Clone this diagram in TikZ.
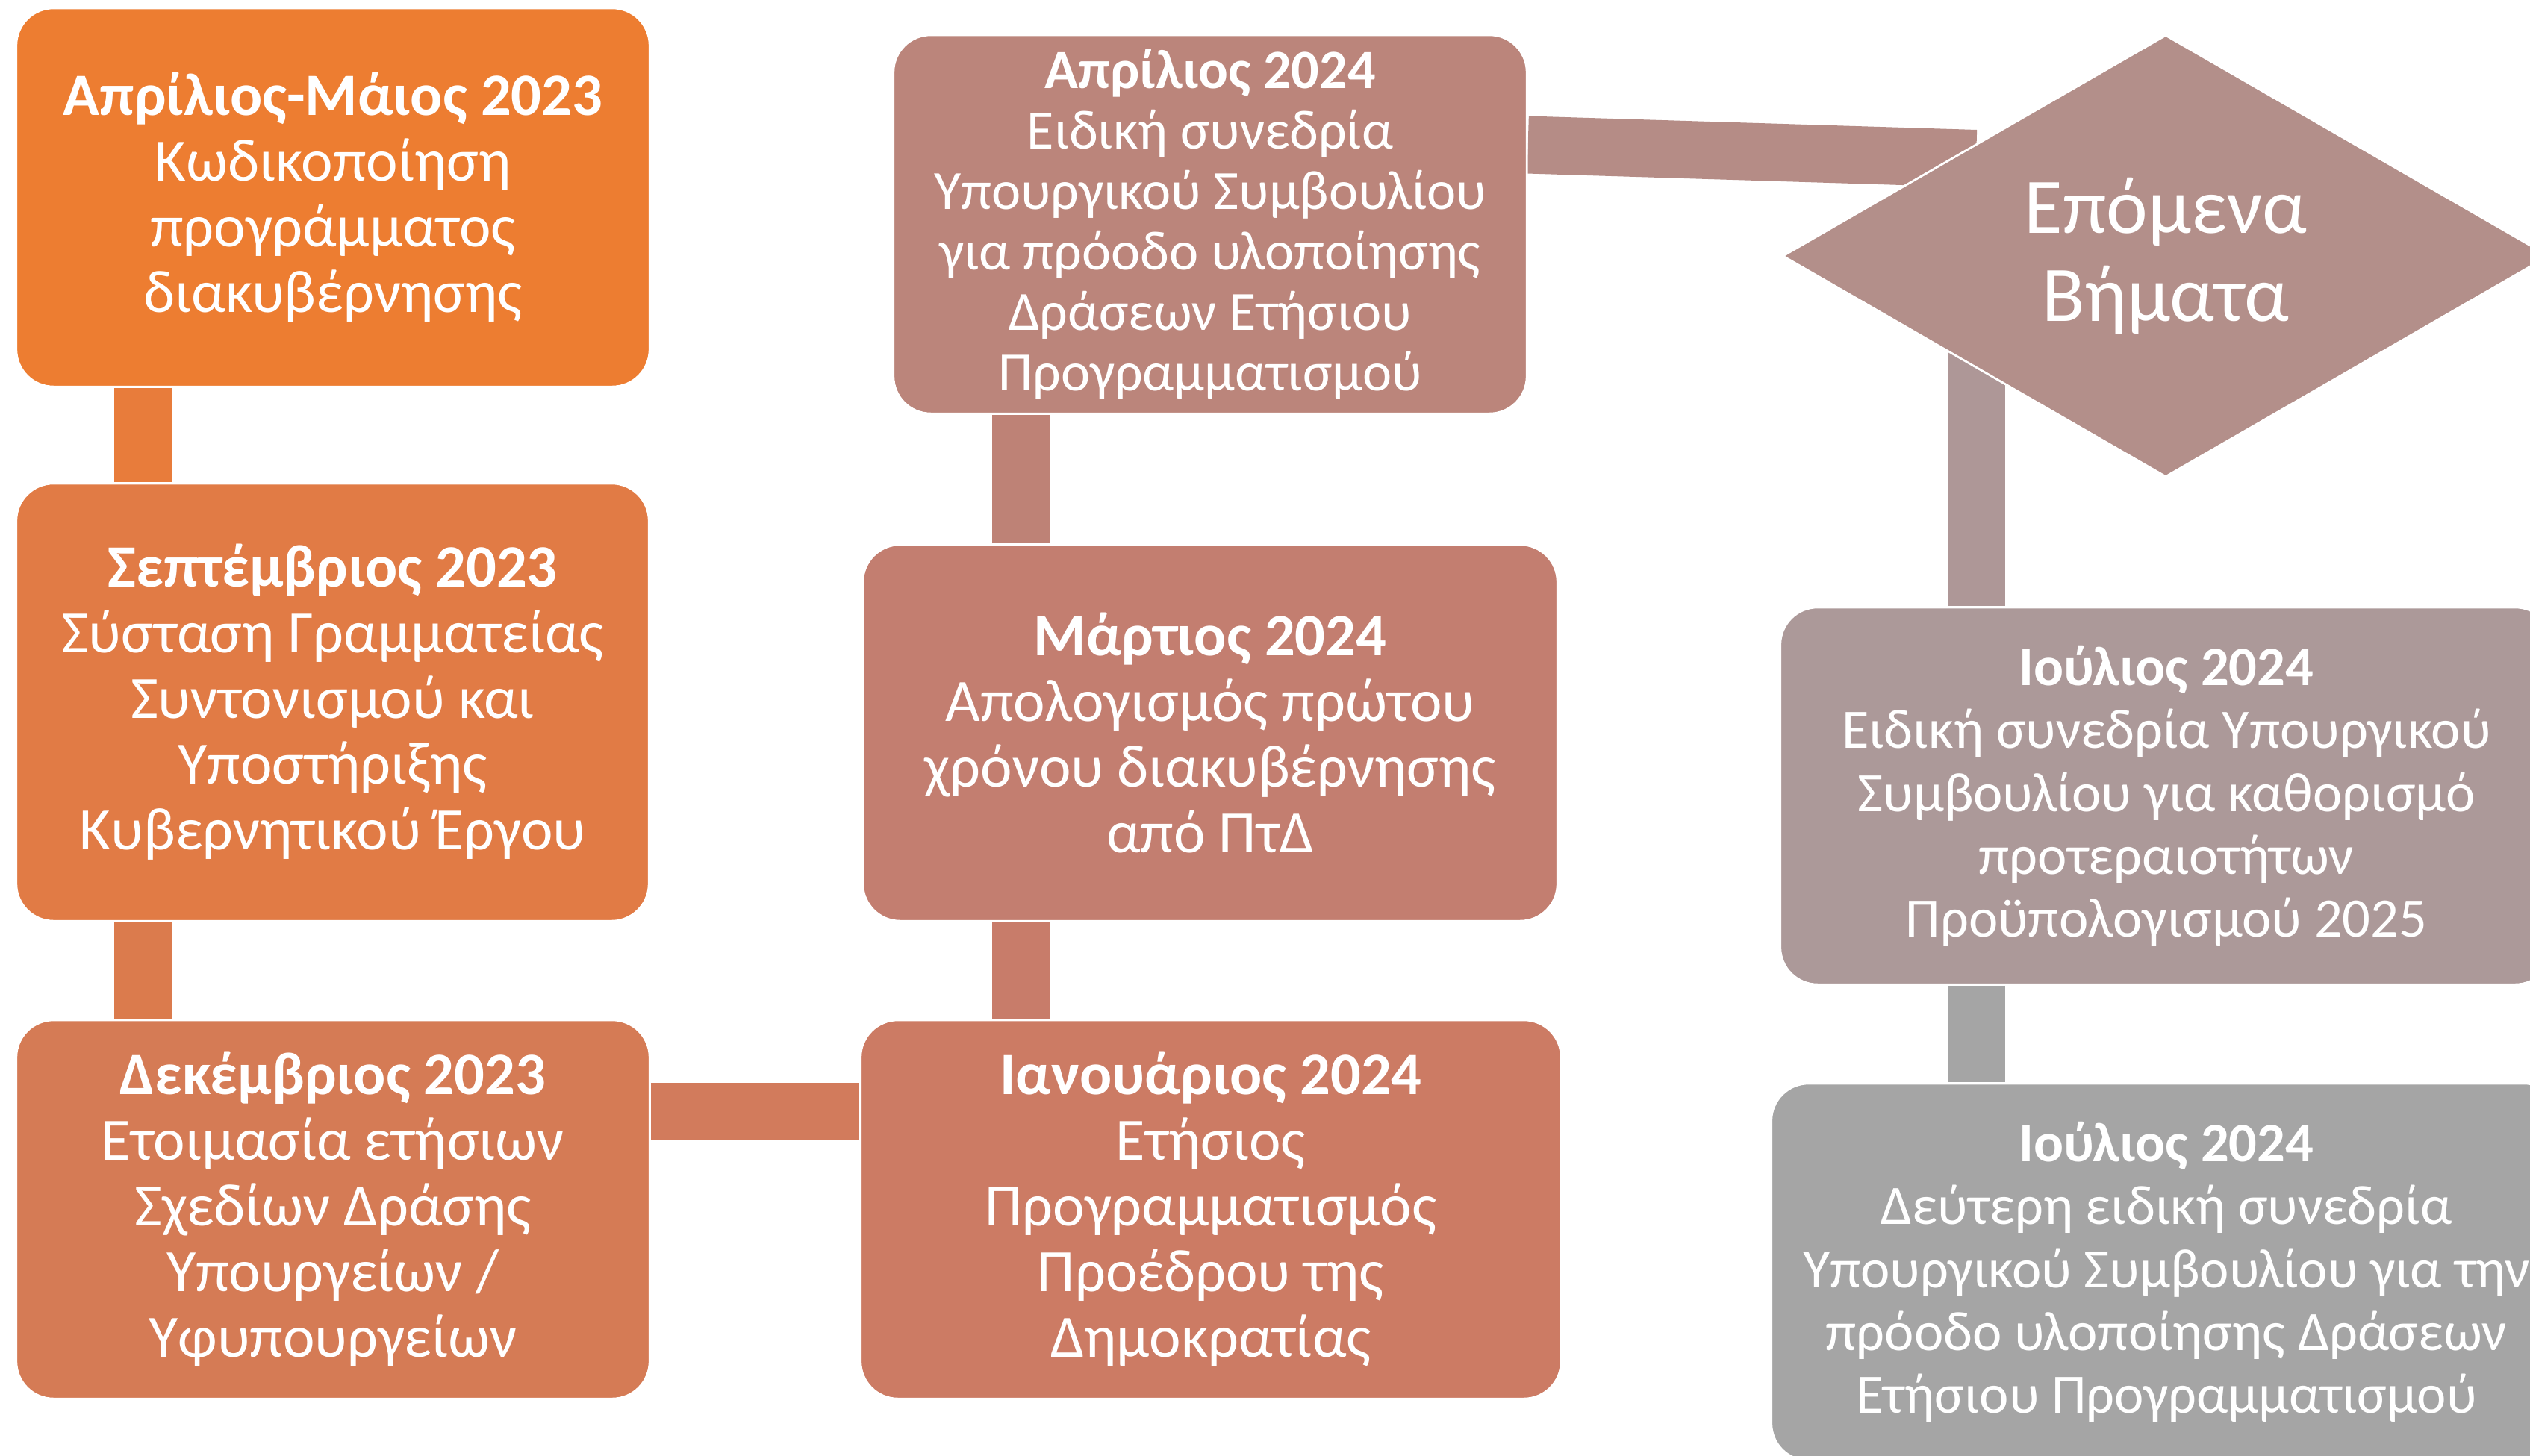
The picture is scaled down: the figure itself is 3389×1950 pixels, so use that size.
\documentclass[tikz,border=0pt]{standalone}
\usepackage{fontspec}
\setmainfont{Carlito}
\usetikzlibrary{shapes.geometric,backgrounds}
\definecolor{cA}{HTML}{ED7D31}
\definecolor{cB}{HTML}{E17B45}
\definecolor{cC}{HTML}{D57B55}
\definecolor{cD}{HTML}{CC7B64}
\definecolor{cE}{HTML}{C37E70}
\definecolor{cF}{HTML}{BB857B}
\definecolor{cG}{HTML}{B38F8A}
\definecolor{cH}{HTML}{AC9999}
\definecolor{cI}{HTML}{A5A5A5}
\definecolor{k1}{HTML}{E87C3B}
\definecolor{k2}{HTML}{DB7B4D}
\definecolor{k3}{HTML}{D27B5C}
\definecolor{k4}{HTML}{C87C6A}
\definecolor{k5}{HTML}{BE8276}
\definecolor{k6}{HTML}{B58C86}
\definecolor{k7}{HTML}{AE9797}
\definecolor{k8}{HTML}{A5A5A5}
\begin{document}
\begin{tikzpicture}[x=0.01cm,y=-0.01cm,
  box/.style={rounded corners=0.5cm, draw=white, line width=0.8pt, inner sep=0pt,
    align=center, text=white, font=\fontsize{22.9}{25}\selectfont},
  conn/.style={line width=0.77cm}]
\useasboundingbox (0,0) rectangle (3389,1950);
% boxes
\node[box, fill=cA, minimum width=8.48cm, minimum height=5.07cm] (b1) at (446,264.5)
  {\textbf{Απρίλιος-Μάιος 2023}\\Κωδικοποίηση\\προγράμματος\\διακυβέρνησης};
\node[box, fill=cB, minimum width=8.47cm, minimum height=5.86cm] (b2) at (445.5,941)
  {\textbf{Σεπτέμβριος 2023}\\Σύσταση Γραμματείας\\Συντονισμού και\\Υποστήριξης\\Κυβερνητικού Έργου};
\node[box, fill=cC, minimum width=8.48cm, minimum height=5.07cm] (b3) at (446,1620.5)
  {\textbf{Δεκέμβριος 2023}\\Ετοιμασία ετήσιων\\Σχεδίων Δράσης\\Υπουργείων /\\Υφυπουργείων};
\node[box, fill=cD, minimum width=9.38cm, minimum height=5.07cm] (jan) at (1622,1620.5)
  {\textbf{Ιανουάριος 2024}\\Ετήσιος\\Προγραμματισμός\\Προέδρου της\\Δημοκρατίας};
\node[box, fill=cE, minimum width=9.30cm, minimum height=5.04cm] (mar) at (1621,982)
  {\textbf{Μάρτιος 2024}\\Απολογισμός πρώτου\\χρόνου διακυβέρνησης\\από ΠτΔ};
\node[box, fill=cF, minimum width=8.48cm, minimum height=5.07cm,
  font=\fontsize{21.1}{23}\selectfont] (apr) at (1621,300.5)
  {\textbf{Απρίλιος 2024}\\Ειδική συνεδρία\\Υπουργικού Συμβουλίου\\για πρόοδο υλοποίησης\\Δράσεων Ετήσιου\\Προγραμματισμού};
\node[diamond, fill=cG, draw=white, line width=0.8pt, inner sep=0pt, minimum width=10.26cm,
  minimum height=5.92cm, align=center, text=white, font=\fontsize{30}{33.5}\selectfont] (dia) at (2901,343)
  {Επόμενα\\Βήματα};
\node[box, fill=cH, minimum width=10.34cm, minimum height=5.05cm,
  font=\fontsize{21.2}{24}\selectfont] (j1) at (2902,1066.5)
  {\textbf{Ιούλιος 2024}\\Ειδική συνεδρία Υπουργικού\\Συμβουλίου για καθορισμό\\προτεραιοτήτων\\Προϋπολογισμού 2025};
\node[box, fill=cI, minimum width=10.58cm, minimum height=5.05cm,
  font=\fontsize{21.2}{24}\selectfont] (j2) at (2902,1704.5)
  {\textbf{Ιούλιος 2024}\\Δεύτερη ειδική συνεδρία\\Υπουργικού Συμβουλίου για την\\πρόοδο υλοποίησης Δράσεων\\Ετήσιου Προγραμματισμού};
% guide coordinates
\coordinate (xl) at (191.5,0);
\coordinate (xm) at (1367.5,0);
\coordinate (xr) at (2647.5,0);
\coordinate (yh) at (0,1489.5);
\coordinate (ya) at (0,194);
\coordinate (bandend) at (2647,212.5);
\begin{scope}[on background layer]
\fill[white] (0,0) rectangle (3389,1950);
\draw[conn, k1] (b1.south -| xl) -- (b2.north -| xl);
\draw[conn, k2] (b2.south -| xl) -- (b3.north -| xl);
\draw[conn, k3] (b3.east |- yh) -- (jan.west |- yh);
\draw[conn, k4] (jan.north -| xm) -- (mar.south -| xm);
\draw[conn, k5] (mar.north -| xm) -- (apr.south -| xm);
\draw[conn, k6] (apr.east |- ya) -- (bandend);
\draw[conn, k7] (dia.center -| xr) -- (j1.north -| xr);
\draw[conn, k8] (j1.south -| xr) -- (j2.north -| xr);
\end{scope}
\end{tikzpicture}
\end{document}
